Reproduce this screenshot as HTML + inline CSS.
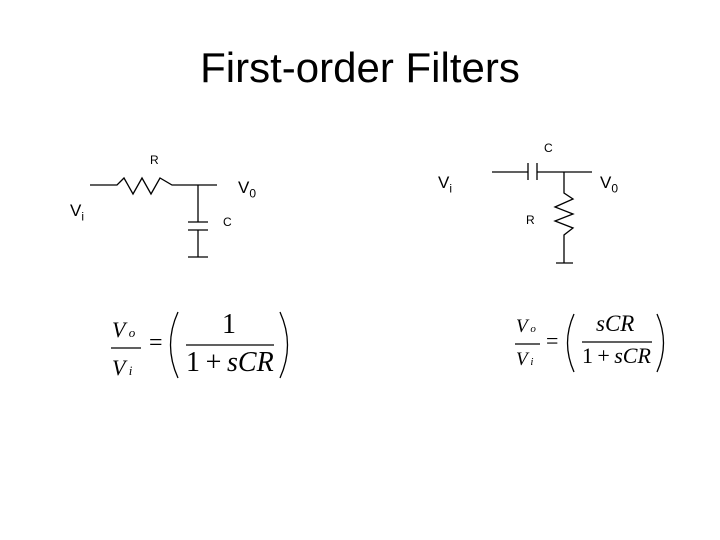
<!DOCTYPE html>
<html><head><style>
body{margin:0;width:720px;height:540px;background:#fff;overflow:hidden;position:relative;font-family:"Liberation Sans",sans-serif}
.t{position:absolute;white-space:nowrap}
.m{font-family:"Liberation Serif",serif;font-style:italic}
</style></head><body>
<div class="t" style="left:0;width:720px;text-align:center;top:44px;font-size:42px">First-order Filters</div>
<svg width="720" height="540" style="position:absolute;left:0;top:0" fill="none" stroke="#000" stroke-width="1.3">
<polyline points="90,185 117,185 124,178 133,194 142,178 151,194 160,178 172,185 217,185"/>
<line x1="198" y1="185" x2="198" y2="222"/>
<line x1="188" y1="222" x2="208" y2="222"/>
<line x1="188" y1="230" x2="208" y2="230"/>
<line x1="198" y1="230" x2="198" y2="257"/>
<line x1="188" y1="257" x2="208" y2="257"/>
<line x1="492" y1="172" x2="528" y2="172"/>
<line x1="528" y1="163" x2="528" y2="180"/>
<line x1="537" y1="163" x2="537" y2="180"/>
<line x1="537" y1="172" x2="592" y2="172"/>
<polyline points="564,172 564,193 573,199 555,207 573,214 555,221 573,228 564,235 564,263"/>
<line x1="556" y1="263" x2="573" y2="263"/>
<line x1="111" y1="348" x2="141" y2="348"/>
<line x1="186" y1="345" x2="274" y2="345"/>
<line x1="515" y1="344" x2="540" y2="344"/>
<line x1="582" y1="342" x2="652" y2="342"/>
<path d="M178,312 Q163,345 178,378"/>
<path d="M280,312 Q295,345 280,378"/>
<path d="M574,314 Q561,343 574,372"/>
<path d="M657,314 Q670,343 657,372"/>
</svg>
<div class="t" style="left:150px;top:153px;font-size:12px">R</div>
<div class="t" style="left:238px;top:178px;font-size:17px">V<sub style="font-size:12px">0</sub></div>
<div class="t" style="left:70px;top:201px;font-size:17px">V<sub style="font-size:12px">i</sub></div>
<div class="t" style="left:223px;top:215px;font-size:12px">C</div>
<div class="t" style="left:544px;top:141px;font-size:12px">C</div>
<div class="t" style="left:526px;top:213px;font-size:12px">R</div>
<div class="t" style="left:438px;top:173px;font-size:17px">V<sub style="font-size:12px">i</sub></div>
<div class="t" style="left:600px;top:173px;font-size:17px">V<sub style="font-size:12px">0</sub></div>
<div class="t m" style="left:112px;top:317px;font-size:22px">V<span style="font-size:13px"> o</span></div>
<div class="t m" style="left:112px;top:355px;font-size:22px">V<span style="font-size:13px"> i</span></div>
<div class="t" style="left:149px;top:330px;font-size:24px;font-family:'Liberation Serif',serif">=</div>
<div class="t" style="left:222px;top:309px;font-size:28px;font-family:'Liberation Serif',serif">1</div>
<div class="t" style="left:186px;top:347px;font-size:28px;font-family:'Liberation Serif',serif">1&thinsp;+&thinsp;<i>sCR</i></div>
<div class="t m" style="left:516px;top:316px;font-size:19px">V<span style="font-size:11px"> o</span></div>
<div class="t m" style="left:516px;top:349px;font-size:19px">V<span style="font-size:11px"> i</span></div>
<div class="t" style="left:546px;top:328px;font-size:22px;font-family:'Liberation Serif',serif">=</div>
<div class="t m" style="left:596px;top:311px;font-size:23px">sCR</div>
<div class="t" style="left:582px;top:343px;font-size:22px;font-family:'Liberation Serif',serif">1&thinsp;+&thinsp;<i>sCR</i></div>
</body></html>
